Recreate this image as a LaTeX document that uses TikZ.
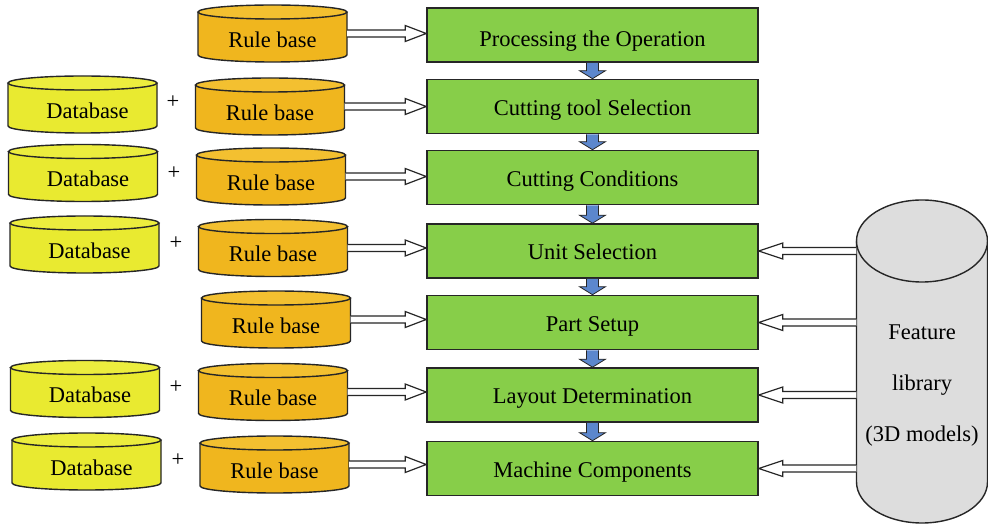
\documentclass[tikz,border=0pt]{standalone}
\usepackage{fontspec}
\setmainfont{Liberation Serif}
\usetikzlibrary{calc}
\definecolor{dbfill}{RGB}{233,234,48}
\definecolor{dbtop}{RGB}{236,237,62}
\definecolor{rbfill}{RGB}{240,182,30}
\definecolor{rbtop}{RGB}{243,192,48}
\definecolor{procfill}{RGB}{135,206,73}
\definecolor{flowblue}{RGB}{92,135,205}
\definecolor{libfill}{RGB}{221,221,221}
\definecolor{edgecol}{RGB}{38,38,38}
\tikzset{
  bigfont/.style={font=\fontsize{22.5}{27}\selectfont},
  drumline/.style={draw=edgecol, line width=1.4pt},
  drumtext/.style={bigfont, inner sep=0pt, text height=28pt, text depth=0pt},
  procbox/.style={bigfont, draw=edgecol, line width=1.6pt, fill=procfill,
    minimum width=331pt, minimum height=54pt, inner sep=0pt,
    text height=18pt, text depth=0pt},
  plussign/.style={bigfont, inner sep=0pt},
  hollowR/.style={draw=edgecol, fill=white, line width=1.2pt,
    to path={let \p1=(\tikztostart), \p2=(\tikztotarget) in
      (\x1,\y1+3.5pt) -- (\x2-21pt,\y1+3.5pt) -- (\x2-21pt,\y1+8pt) -- (\x2,\y1)
      -- (\x2-21pt,\y1-8pt) -- (\x2-21pt,\y1-3.5pt) -- (\x1,\y1-3.5pt)}},
  hollowL/.style={draw=edgecol, fill=white, line width=1.2pt,
    to path={let \p1=(\tikztostart), \p2=(\tikztotarget) in
      (\x1,\y1+3.5pt) -- (\x2+24pt,\y1+3.5pt) -- (\x2+24pt,\y1+8pt) -- (\x2,\y1)
      -- (\x2+24pt,\y1-8pt) -- (\x2+24pt,\y1-3.5pt) -- (\x1,\y1-3.5pt)}},
  flowarrow/.style={draw=edgecol, fill=flowblue, line width=0.8pt,
    to path={let \p1=(\tikztostart), \p2=(\tikztotarget) in
      (\x1-6pt,\y1) -- (\x1-6pt,\y2+8pt) -- (\x1-13pt,\y2+8pt) -- (\x1,\y2)
      -- (\x1+13pt,\y2+8pt) -- (\x1+6pt,\y2+8pt) -- (\x1+6pt,\y1)}},
}
% #1 name, #2 cx, #3 cy, #4 width, #5 height, #6 ry, #7 body fill, #8 top fill, #9 text
\newcommand\drum[9]{%
  \fill[#7] (#2-#4/2,#3+#5/2-#6) -- (#2-#4/2,#3-#5/2+#6)
     arc[start angle=180,end angle=360,x radius=#4/2,y radius=#6]
     -- (#2+#4/2,#3+#5/2-#6) -- cycle;
  \draw[drumline] (#2-#4/2,#3+#5/2-#6) -- (#2-#4/2,#3-#5/2+#6)
     arc[start angle=180,end angle=360,x radius=#4/2,y radius=#6]
     -- (#2+#4/2,#3+#5/2-#6);
  \draw[drumline,fill=#8] (#2,#3+#5/2-#6) ellipse[x radius=#4/2,y radius=#6];
  \node[drumtext,minimum width=#4pt,minimum height=#5pt] (#1) at (#2,#3) {#9};
}
\newcommand\dbtext{\hspace*{10pt}Database}
\begin{document}
\begin{tikzpicture}[x=1pt,y=1pt]
\useasboundingbox (0,0) rectangle (988,525);
\fill[white] (0,0) rectangle (988,525);

% process boxes
\node[procbox, text height=24pt] (p1) at (592.5,490) {Processing the Operation};
\node[procbox] (p2) at (592.5,418.5) {Cutting tool Selection};
\node[procbox] (p3) at (592.5,347.5) {Cutting Conditions};
\node[procbox] (p4) at (592.5,274)   {Unit Selection};
\node[procbox] (p5) at (592.5,202.5) {Part Setup};
\node[procbox] (p6) at (592.5,130)   {Layout Determination};
\node[procbox] (p7) at (592.5,56.5)  {Machine Components};

% rule bases
\drum{r1}{272.5}{491.5}{149}{57}{7}{rbfill}{rbtop}{Rule base}
\drum{r2}{270}{418.5}{149}{57}{7}{rbfill}{rbtop}{Rule base}
\drum{r3}{271}{348.5}{149}{57}{7}{rbfill}{rbtop}{Rule base}
\drum{r4}{273}{277}{149}{57}{7}{rbfill}{rbtop}{Rule base}
\drum{r5}{276}{205.5}{149}{57}{7}{rbfill}{rbtop}{Rule base}
\drum{r6}{273}{133}{149}{57}{7}{rbfill}{rbtop}{Rule base}
\drum{r7}{274.5}{60.5}{149}{57}{7}{rbfill}{rbtop}{Rule base}

% databases
\drum{d2}{82.5}{420.5}{149}{57}{7}{dbfill}{dbtop}{\dbtext}
\drum{d3}{83}{352}{149}{57}{7}{dbfill}{dbtop}{\dbtext}
\drum{d4}{84.5}{280.5}{149}{57}{7}{dbfill}{dbtop}{\dbtext}
\drum{d6}{85}{136}{149}{57}{7}{dbfill}{dbtop}{\dbtext}
\drum{d7}{86.5}{63.5}{149}{57}{7}{dbfill}{dbtop}{\dbtext}

% plus signs
\node[plussign] (s2) at (173,423) {+};
\node[plussign] (s3) at (174,352) {+};
\node[plussign] (s4) at (176,282) {+};
\node[plussign] (s6) at (176,138) {+};
\node[plussign] (s7) at (178,65)  {+};

% feature library
\drum{lib}{922}{163.5}{131}{323}{41}{libfill}{libfill}{}
\node[font=\fontsize{22.5}{51}\selectfont, align=center, inner sep=0pt] (libt) at (922,139)
  {Feature\\library\\(3D models)};

% hollow arrows from rule bases
\draw[hollowR] (r1.east) to (r1.east -| p1.west);
\draw[hollowR] (r2.east) to (r2.east -| p2.west);
\draw[hollowR] (r3.east) to (r3.east -| p3.west);
\draw[hollowR] (r4.east) to (r4.east -| p4.west);
\draw[hollowR] (r5.east) to (r5.east -| p5.west);
\draw[hollowR] (r6.east) to (r6.east -| p6.west);
\draw[hollowR] (r7.east) to (r7.east -| p7.west);

% hollow arrows from feature library
\draw[hollowL] (lib.west |- p4.east) to (p4.east);
\draw[hollowL] (lib.west |- p5.east) to (p5.east);
\draw[hollowL] (lib.west |- p6.east) to (p6.east);
\draw[hollowL] (lib.west |- p7.east) to (p7.east);

% flow arrows
\draw[flowarrow] (p1.south) to (p2.north);
\draw[flowarrow] (p2.south) to (p3.north);
\draw[flowarrow] (p3.south) to (p4.north);
\draw[flowarrow] (p4.south) to (p5.north);
\draw[flowarrow] (p5.south) to (p6.north);
\draw[flowarrow] (p6.south) to (p7.north);
\end{tikzpicture}
\end{document}
